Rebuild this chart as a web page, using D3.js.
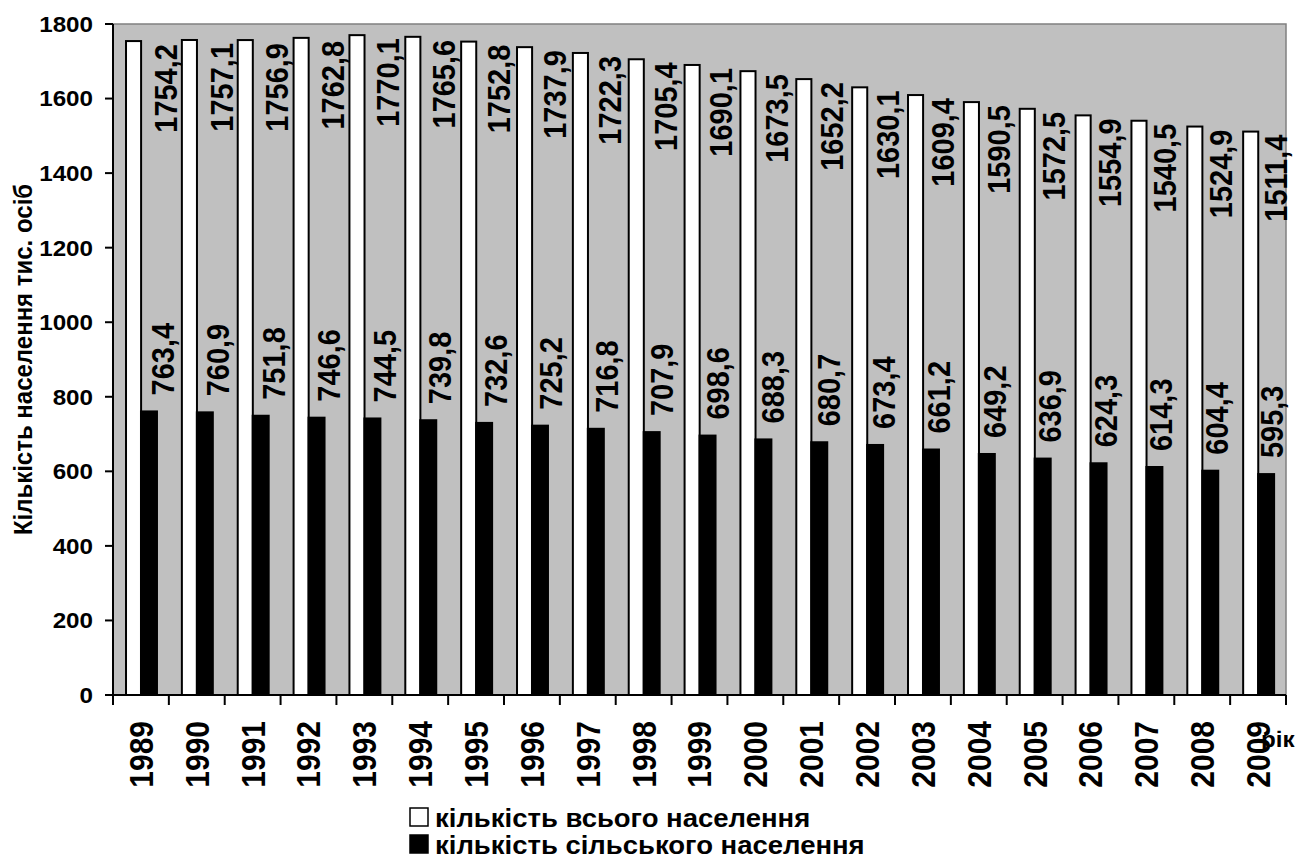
<!DOCTYPE html>
<html>
<head>
<meta charset="utf-8">
<script src="https://cdn.jsdelivr.net/npm/d3@7"></script>
<style>
  html, body { margin: 0; padding: 0; background: #ffffff; }
  svg { display: block; }
  text { font-family: "Liberation Sans", Arial, sans-serif; font-weight: bold; fill: #000; }
</style>
</head>
<body>
<svg id="chart" width="1298" height="861"></svg>
<script>
const years = ["1989","1990","1991","1992","1993","1994","1995","1996","1997","1998","1999",
               "2000","2001","2002","2003","2004","2005","2006","2007","2008","2009"];
const totalPop = [1754.2,1757.1,1756.9,1762.8,1770.1,1765.6,1752.8,1737.9,1722.3,1705.4,1690.1,
                  1673.5,1652.2,1630.1,1609.4,1590.5,1572.5,1554.9,1540.5,1524.9,1511.4];
const ruralPop = [763.4,760.9,751.8,746.6,744.5,739.8,732.6,725.2,716.8,707.9,698.6,
                  688.3,680.7,673.4,661.2,649.2,636.9,624.3,614.3,604.4,595.3];
const yTicks = [0,200,400,600,800,1000,1200,1400,1600,1800];
const yTitle = "Кількість населення тис. осіб";
const xTitle = "рік";
const legendLabels = ["кількість всього населення", "кількість сільського населення"];

const fmt = v => v.toFixed(1).replace(".", ",");

const svg = d3.select("#chart");
const L = 113, R = 1286, T = 24, B = 695;
const SX = 1.1; // horizontal stretch of the original's text

const x = d3.scaleBand().domain(years).range([L, R]).padding(0);
const y = d3.scaleLinear().domain([0, 1800]).range([B, T]);
const bw = x.bandwidth();
// label positions (the original's labels drift slightly left across the axis)
const xLabTotal = d3.scaleLinear().domain([0, years.length - 1]).range([L + bw * 0.94, R - bw * 0.18]);
const xLabRural = d3.scaleLinear().domain([0, years.length - 1]).range([L + bw * 0.885, R - bw * 0.255]);

// plot background
svg.append("rect").attr("x", L).attr("y", T).attr("width", R - L).attr("height", B - T)
  .attr("fill", "#c0c0c0");
svg.append("path").attr("d", `M${L},${T}H${R}V${B}`).attr("fill", "none")
  .attr("stroke", "#808080").attr("stroke-width", 1.5);

const rows = years.map((yr, i) => ({ i, yr, total: totalPop[i], rural: ruralPop[i] }));

// white bars (total)
svg.append("g").selectAll("rect").data(rows).join("rect")
  .attr("x", d => x(d.yr) + bw * 0.233)
  .attr("y", d => y(d.total))
  .attr("width", bw * 0.27)
  .attr("height", d => B - y(d.total))
  .attr("fill", "#ffffff").attr("stroke", "#000").attr("stroke-width", 2);

// black bars (rural)
svg.append("g").selectAll("rect").data(rows).join("rect")
  .attr("x", d => x(d.yr) + bw * 0.483)
  .attr("y", d => y(d.rural))
  .attr("width", bw * 0.322)
  .attr("height", d => B - y(d.rural))
  .attr("fill", "#000");

// value labels total
svg.append("g").selectAll("text").data(rows).join("text")
  .attr("transform", d => `translate(${xLabTotal(d.i)},${y(d.total) + 3}) scale(${SX},1) rotate(-90)`)
  .attr("text-anchor", "end").attr("dy", "0.36em")
  .style("font-size", "29px")
  .text(d => fmt(d.total));

// value labels rural
svg.append("g").selectAll("text").data(rows).join("text")
  .attr("transform", d => `translate(${xLabRural(d.i)},${y(d.rural) - 15}) scale(${SX},1) rotate(-90)`)
  .attr("text-anchor", "start").attr("dy", "0.36em")
  .style("font-size", "29px")
  .text(d => fmt(d.rural));

// Y axis
const yAxis = svg.append("g");
yAxis.append("line").attr("x1", L).attr("x2", L).attr("y1", T).attr("y2", B)
  .attr("stroke", "#000").attr("stroke-width", 2);
yAxis.selectAll("line.tick").data(yTicks).join("line").attr("class", "tick")
  .attr("x1", L - 8).attr("x2", L).attr("y1", d => y(d)).attr("y2", d => y(d))
  .attr("stroke", "#000").attr("stroke-width", 2);
yAxis.selectAll("text").data(yTicks).join("text")
  .attr("transform", d => `translate(${L - 20},${y(d)}) scale(${SX},1)`)
  .attr("text-anchor", "end").attr("dy", "0.36em")
  .style("font-size", "22px")
  .text(d => d);

// X axis
const xAxis = svg.append("g");
xAxis.append("line").attr("x1", L).attr("x2", R).attr("y1", B).attr("y2", B)
  .attr("stroke", "#000").attr("stroke-width", 2);
const bounds = years.map(d => x(d)).concat([R]);
xAxis.selectAll("line.tick").data(bounds).join("line").attr("class", "tick")
  .attr("x1", d => d).attr("x2", d => d).attr("y1", B).attr("y2", B + 10)
  .attr("stroke", "#000").attr("stroke-width", 2);
xAxis.selectAll("text").data(years).join("text")
  .attr("transform", d => `translate(${x(d) + bw / 2},${721}) scale(${SX},1) rotate(-90)`)
  .attr("text-anchor", "end").attr("dy", "0.36em")
  .style("font-size", "30px")
  .text(d => d);

// x title
svg.append("text").attr("transform", `translate(1261,747) scale(${SX},1)`)
  .style("font-size", "22px").text(xTitle);

// y title
svg.append("text")
  .attr("transform", `translate(22,${(T + B) / 2}) scale(${SX},1) rotate(-90)`)
  .attr("text-anchor", "middle").attr("dy", "0.36em")
  .style("font-size", "24px")
  .text(yTitle);

// legend
const lg = svg.append("g");
const legendItems = [
  { label: legendLabels[0], fill: "#ffffff", y: 808 },
  { label: legendLabels[1], fill: "#000000", y: 835 }
];
lg.selectAll("rect").data(legendItems).join("rect")
  .attr("x", 410).attr("y", d => d.y).attr("width", 18).attr("height", 18)
  .attr("fill", d => d.fill).attr("stroke", "#000").attr("stroke-width", 1.5);
lg.selectAll("text").data(legendItems).join("text")
  .attr("transform", d => `translate(435,${d.y + 19}) scale(${SX},1)`)
  .style("font-size", "25px")
  .text(d => d.label);
</script>
</body>
</html>
